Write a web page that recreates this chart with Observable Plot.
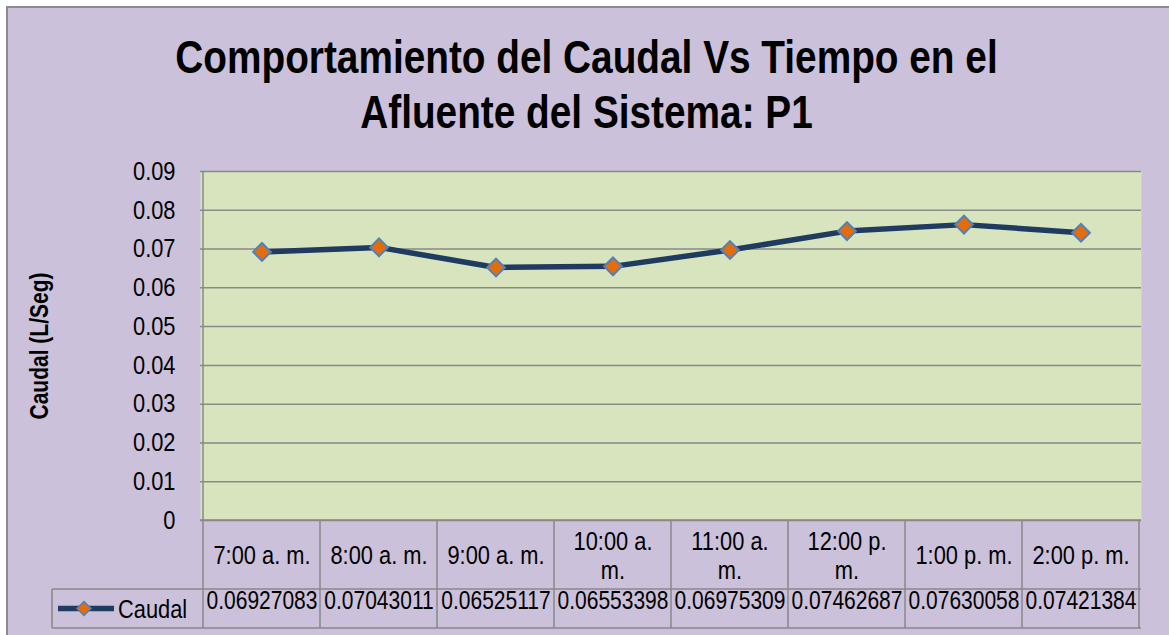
<!DOCTYPE html>
<html>
<head>
<meta charset="utf-8">
<script src="https://cdn.jsdelivr.net/npm/d3@7"></script>
<script src="https://cdn.jsdelivr.net/npm/@observablehq/plot@0.6"></script>
<style>
  html, body { margin: 0; padding: 0; background: #ffffff; overflow: hidden; }
  #wrap { position: relative; width: 1169px; height: 635px; overflow: hidden; }
  #box { position: absolute; left: 6px; top: 6px; width: 1180px; height: 650px;
         border: 2px solid #8c8c8c; background: #CCC1DA; }
  #title { position: absolute; left: 2px; top: 29px; width: 1169px; text-align: center;
           font-family: 'Liberation Sans', Arial, sans-serif;
           font-weight: bold; font-size: 47px; line-height: 55px; color: #000;
           transform: scaleX(0.825); transform-origin: 50% 0; white-space: nowrap; }
  #chart { position: absolute; left: 0; top: 0; }
</style>
</head>
<body>
<div id="wrap">
  <div id="box"></div>
  <div id="chart"></div>
  <div id="title">Comportamiento del Caudal Vs Tiempo en el<br>Afluente del Sistema: P1</div>
</div>
<script>
const FONT = "'Liberation Sans', Arial, sans-serif";
const SQUEEZE = 0.84; // emulate a narrow face
const FS = 26;

const categories = ["7:00 a. m.", "8:00 a. m.", "9:00 a. m.", "10:00 a. m.", "11:00 a. m.", "12:00 p. m.", "1:00 p. m.", "2:00 p. m."];
const caudal = [0.06927083, 0.07043011, 0.06525117, 0.06553398, 0.06975309, 0.07462687, 0.07630058, 0.07421384];
const yTicks = [0, 0.01, 0.02, 0.03, 0.04, 0.05, 0.06, 0.07, 0.08, 0.09];
const seriesName = "Caudal";
const yLabel = "Caudal (L/Seg)";

const rows = categories.map((c, i) => ({hora: c, caudal: caudal[i]}));

const LINE = "#1F3B5F";
const MARK_FILL = "#E46C0A";
const MARK_STROKE = "#4F81BD";
const GRID = "#898989";

const W = 1169, H = 635, ML = 200, MR = 28, MT = 171, MB = 115;
const cellWidth = (W - ML - MR) / categories.length;

const ctx = document.createElement("canvas").getContext("2d");
ctx.font = FS + "px 'Liberation Sans', Arial, sans-serif";
if ("fontKerning" in ctx) ctx.fontKerning = "none";
function wrapLabel(label, maxWidth) {
  if (ctx.measureText(label).width * SQUEEZE <= maxWidth) return label;
  const i = label.lastIndexOf(" ");
  return label.slice(0, i) + "\n" + label.slice(i + 1);
}

function dataTable(index, scales, values, dims) {
  const x = scales.x;
  const bw = typeof x.bandwidth === "function" ? x.bandwidth() : x.bandwidth;
  const left = dims.marginLeft, right = dims.width - dims.marginRight;
  const top = dims.marginTop, y0 = dims.height - dims.marginBottom;
  const r1 = y0 + 69, r2 = r1 + 39, legendLeft = 52;
  const g = d3.create("svg:g");
  const lines = g.append("g").attr("stroke", GRID).attr("stroke-width", 1.5).attr("fill", "none");
  const hl = (x1, x2, y) => lines.append("line").attr("x1", x1).attr("x2", x2).attr("y1", y).attr("y2", y);
  const vl = (xx, y1, y2) => lines.append("line").attr("x1", xx).attr("x2", xx).attr("y1", y1).attr("y2", y2);
  hl(left, right, y0);
  hl(legendLeft, right, r1);
  hl(legendLeft, right, r2);
  categories.forEach((c, i) => vl(x(c), i === 0 ? top : y0, r2));
  vl(x(categories[categories.length - 1]) + bw, y0, r2);
  vl(legendLeft, r1, r2);
  // legend key
  const ly = (r1 + r2) / 2;
  g.append("line").attr("x1", legendLeft + 6).attr("x2", legendLeft + 62).attr("y1", ly).attr("y2", ly)
    .attr("stroke", LINE).attr("stroke-width", 5.5);
  const cx = legendLeft + 32, s = 7;
  g.append("path").attr("d", `M${cx},${ly - s}L${cx + s},${ly}L${cx},${ly + s}L${cx - s},${ly}Z`)
    .attr("fill", MARK_FILL).attr("stroke", MARK_STROKE).attr("stroke-width", 1.5);
  g.append("text").attr("x", legendLeft + 66).attr("y", ly).attr("dy", "0.35em")
    .attr("text-anchor", "start").attr("font-size", FS).attr("fill", "#000").text(seriesName);
  return g.node();
}

const plot = Plot.plot({
  width: W,
  height: H,
  marginTop: MT,
  marginBottom: MB,
  marginLeft: ML,
  marginRight: MR,
  style: {background: "transparent", fontFamily: FONT, fontSize: FS + "px", color: "#000"},
  x: {type: "band", domain: categories, padding: 0, axis: null},
  y: {domain: [0, 0.09], axis: null},
  marks: [
    Plot.frame({fill: "#D7E4BD", stroke: "none"}),
    Plot.gridY(yTicks, {stroke: GRID, strokeOpacity: 1, strokeWidth: 1.5}),
    Plot.axisY(yTicks, {tickSize: 0, tickPadding: 25, tickFormat: d => String(d), fontSize: FS, label: null}),
    dataTable,
    Plot.text(categories, {x: d => d, text: d => wrapLabel(d, cellWidth - 16), frameAnchor: "bottom", dy: 34.5, lineAnchor: "middle", lineHeight: 1.12, fontSize: FS, fill: "#000"}),
    Plot.text(rows, {x: "hora", text: d => String(d.caudal), frameAnchor: "bottom", dy: 88.5, fontSize: 25, fill: "#000"}),
    Plot.text([yLabel], {frameAnchor: "left", dx: -161, rotate: -90, textAnchor: "middle", fontWeight: "bold", fontSize: 25, fill: "#000"}),
    Plot.line(rows, {x: "hora", y: "caudal", stroke: LINE, strokeWidth: 5.5}),
    Plot.dot(rows, {x: "hora", y: "caudal", symbol: "diamond2", r: 8, fill: MARK_FILL, stroke: MARK_STROKE, strokeWidth: 2})
  ]
});
document.getElementById("chart").appendChild(plot);

// condense every text run horizontally, keeping its anchor
plot.querySelectorAll("text").forEach(t => {
  const spans = t.querySelectorAll("tspan");
  const targets = spans.length ? Array.from(spans) : [t];
  targets.forEach(el => {
    const len = el.getComputedTextLength();
    if (len > 0) {
      el.setAttribute("textLength", (len * SQUEEZE).toFixed(2));
      el.setAttribute("lengthAdjust", "spacingAndGlyphs");
    }
  });
});
</script>
</body>
</html>
